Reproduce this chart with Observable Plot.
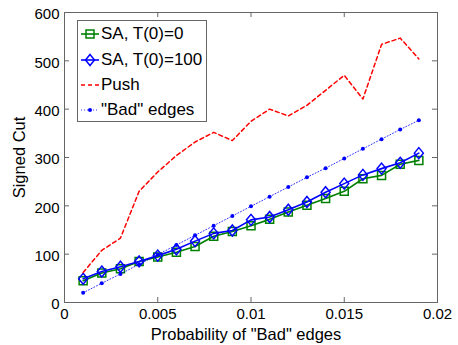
<!DOCTYPE html>
<html><head><meta charset="utf-8">
<script src="https://cdn.jsdelivr.net/npm/d3@7"></script>
<script src="https://cdn.jsdelivr.net/npm/@observablehq/plot@0.6"></script>
<style>
body{margin:0;background:#fff;}
#wrap{position:relative;width:458px;height:345px;font-family:"Liberation Sans",Arial,sans-serif;}
#legend{position:absolute;left:77px;top:20px;width:130px;height:102px;border:1px solid #666;background:#fff;box-sizing:border-box;}
.row{position:absolute;left:0;height:20px;display:flex;align-items:center;font-size:17px;color:#000;white-space:nowrap;}
.row svg{margin-left:3px;margin-right:2px;}
</style></head>
<body><div id="wrap"></div>
<script>
const probs = [0.001,0.002,0.003,0.004,0.005,0.006,0.007,0.008,0.009,0.010,0.011,0.012,0.013,0.014,0.015,0.016,0.017,0.018,0.019];
const saT0 = [45,61,70,85,94,104,116,137,147,159,172,187,201,215,230,256,263,286,294];
const saT100 = [49,64,74,85,97,110,127,143,149,171,177,192,208,228,246,264,277,289,309];
const push = [62,108,133,230,270,304,332,352,335,375,400,386,408,439,470,421,534,547,504];
const badEdges = [20,40,59,79,99,119,139,159,179,199,219,239,259,278,298,318,338,358,377];
const seriesNames = ["SA, T(0)=0", "SA, T(0)=100", "Push", "\"Bad\" edges"];
const xTicks = [0,0.005,0.01,0.015,0.02];
const yTicks = [0,100,200,300,400,500,600];
const xLabel = "Probability of \"Bad\" edges";
const yLabel = "Signed Cut";

const W = 458, H = 345, mL = 64, mR = 21, mT = 12, mB = 43;
const fw = W - mL - mR, fh = H - mT - mB;
const green = "#008000", blue = "#0000ff", red = "#ff0000", axisCol = "#666";

const rec = arr => probs.map((p, i) => ({p, v: arr[i]}));
const squareSym = {draw(ctx){ ctx.moveTo(-4,-4); ctx.lineTo(4,-4); ctx.lineTo(4,4); ctx.lineTo(-4,4); ctx.closePath(); }};
const diamondSym = {draw(ctx){ ctx.moveTo(0,-5.5); ctx.lineTo(4.5,0); ctx.lineTo(0,5.5); ctx.lineTo(-4.5,0); ctx.closePath(); }};

const chart = Plot.plot({
  width: W, height: H,
  marginLeft: mL, marginRight: mR, marginTop: mT, marginBottom: mB,
  style: {fontFamily: "Liberation Sans, Arial, sans-serif", fontSize: "15px", color: "#000", background: "#fff"},
  x: {domain: [0, 0.02]},
  y: {domain: [0, 600]},
  marks: [
    Plot.frame({stroke: axisCol}),
    Plot.tickX(xTicks, {x: d => d, insetTop: fh - 5, stroke: axisCol}),
    Plot.tickX(xTicks, {x: d => d, insetBottom: fh - 5, stroke: axisCol}),
    Plot.tickY(yTicks, {y: d => d, insetRight: fw - 5, stroke: axisCol}),
    Plot.tickY(yTicks, {y: d => d, insetLeft: fw - 5, stroke: axisCol}),
    Plot.axisX(xTicks, {tickSize: 0, tickPadding: 6, tickFormat: d3.format("~g"), label: null}),
    Plot.axisY(yTicks, {tickSize: 0, tickPadding: 5, dy: 2, label: null}),
    Plot.text([xLabel], {frameAnchor: "bottom", dy: 37, dx: -5, fontSize: 16.5, text: d => d}),
    Plot.text([yLabel], {frameAnchor: "left", textAnchor: "middle", rotate: -90, dx: -45, fontSize: 16.5, text: d => d}),
    Plot.line(rec(saT0), {x: "p", y: "v", stroke: green, strokeWidth: 1.6}),
    Plot.dot(rec(saT0), {x: "p", y: "v", symbol: squareSym, stroke: green, strokeWidth: 1.5, fill: "none"}),
    Plot.line(rec(saT100), {x: "p", y: "v", stroke: blue, strokeWidth: 1.6}),
    Plot.dot(rec(saT100), {x: "p", y: "v", symbol: diamondSym, stroke: blue, strokeWidth: 1.5, fill: "none"}),
    Plot.line(rec(push), {x: "p", y: "v", stroke: red, strokeWidth: 1.5, strokeDasharray: "4,3"}),
    Plot.line(rec(badEdges), {x: "p", y: "v", stroke: blue, strokeWidth: 1, strokeDasharray: "1,2", strokeOpacity: 0.8}),
    Plot.dot(rec(badEdges), {x: "p", y: "v", r: 2, fill: blue, stroke: "none"})
  ]
});
const wrap = document.getElementById("wrap");
wrap.appendChild(chart);

const legend = document.createElement("div");
legend.id = "legend";
const samples = [
  `<svg width="18" height="14"><line x1="0" y1="7" x2="18" y2="7" stroke="${green}" stroke-width="1.6"/><rect x="5" y="3" width="8" height="8" fill="none" stroke="${green}" stroke-width="1.5"/></svg>`,
  `<svg width="18" height="14"><line x1="0" y1="7" x2="18" y2="7" stroke="${blue}" stroke-width="1.6"/><path d="M9,1.5L13.5,7L9,12.5L4.5,7Z" fill="none" stroke="${blue}" stroke-width="1.5"/></svg>`,
  `<svg width="18" height="14"><line x1="0" y1="7" x2="18" y2="7" stroke="${red}" stroke-width="1.5" stroke-dasharray="4,3"/></svg>`,
  `<svg width="18" height="14"><line x1="0" y1="7" x2="18" y2="7" stroke="${blue}" stroke-width="1" stroke-dasharray="1,2" stroke-opacity="0.8"/><circle cx="9" cy="7" r="2" fill="${blue}"/></svg>`
];
const rowCenters = [13, 38.5, 64, 88.5];
seriesNames.forEach((name, i) => {
  const row = document.createElement("div");
  row.className = "row";
  row.style.top = (rowCenters[i] - 10) + "px";
  row.innerHTML = samples[i] + `<span>${name.replace(/"/g, "&quot;")}</span>`;
  legend.appendChild(row);
});
wrap.appendChild(legend);
</script>
</body></html>
